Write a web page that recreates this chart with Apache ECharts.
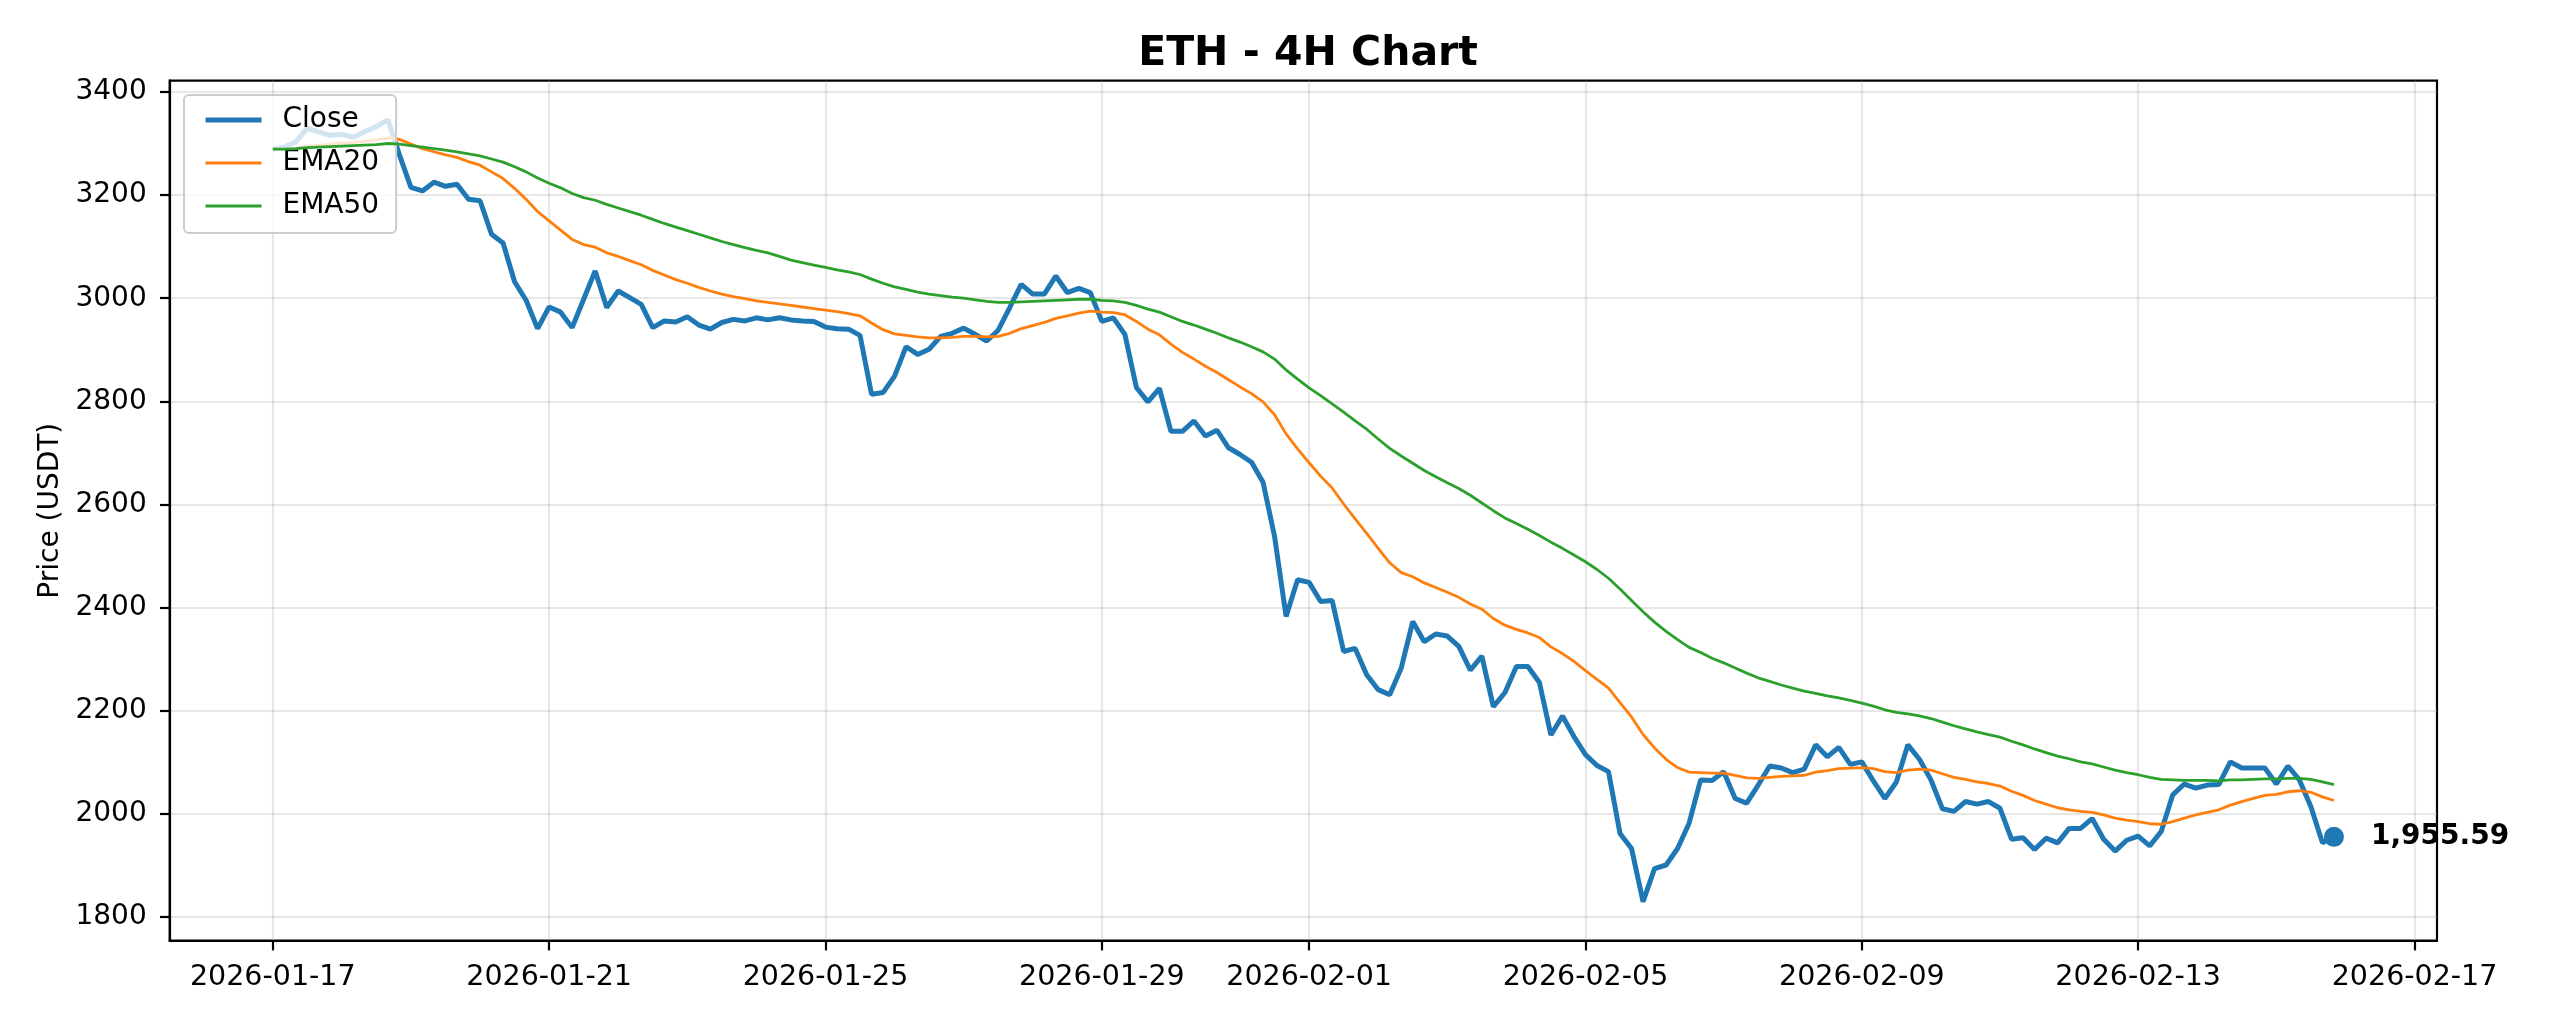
<!DOCTYPE html>
<html><head><meta charset="utf-8">
<script src="https://cdn.jsdelivr.net/npm/echarts@6/dist/echarts.min.js"></script>
<style>html,body{margin:0;padding:0;background:#fff}#c{width:2560px;height:1024px}</style>
</head><body><div id="c"></div>
<script>
const startTime = '2026-01-17T00:00:00Z';
const stepHours = 4;
const closeValues = [
3289,3293,3303,3330,3322,3316,3318,3312,3323,3333,
3346,3278,3215,3208,3225,3217,3221,3192,3189,3124,
3107,3032,2996,2941,2983,2973,2943,2998,3053,2982,
3014,3001,2988,2943,2956,2954,2964,2948,2940,2953,
2959,2956,2962,2958,2962,2958,2956,2955,2944,2941,
2940,2928,2814,2817,2849,2906,2891,2901,2926,2932,
2942,2930,2917,2938,2982,3027,3008,3008,3043,3011,
3019,3011,2955,2962,2930,2827,2799,2825,2742,2742,
2762,2733,2744,2710,2697,2682,2643,2538,2383,2454,
2449,2412,2414,2315,2321,2270,2241,2231,2283,2373,
2334,2349,2345,2325,2279,2306,2208,2235,2286,2286,
2255,2153,2190,2150,2115,2094,2082,1962,1933,1830,
1894,1901,1933,1982,2066,2065,2082,2030,2021,2056,
2093,2089,2080,2087,2134,2111,2129,2096,2101,2064,
2030,2062,2134,2106,2066,2010,2005,2024,2019,2024,
2011,1951,1954,1931,1953,1944,1972,1972,1991,1951,
1928,1949,1957,1938,1966,2037,2058,2050,2056,2057,
2101,2089,2089,2089,2058,2093,2066,2014,1944,1955.59];
const ema20Values = [
3289,3289,3291,3295,3297,3299,3301,3302,3304,3307,
3311,3308,3299,3290,3284,3278,3273,3265,3258,3245,
3232,3213,3192,3168,3150,3132,3114,3104,3099,3088,
3081,3073,3065,3054,3045,3036,3029,3021,3014,3008,
3003,2999,2995,2992,2989,2986,2983,2980,2977,2974,
2970,2966,2952,2939,2931,2928,2925,2923,2923,2924,
2926,2926,2925,2926,2932,2941,2947,2953,2961,2966,
2971,2975,2973,2972,2968,2955,2940,2929,2911,2895,
2882,2868,2856,2842,2828,2815,2799,2774,2737,2708,
2681,2655,2632,2601,2572,2544,2515,2487,2468,2460,
2448,2439,2430,2420,2407,2397,2379,2366,2358,2351,
2342,2324,2311,2296,2278,2261,2244,2216,2188,2154,
2128,2106,2090,2081,2080,2079,2079,2075,2070,2069,
2071,2073,2074,2075,2081,2084,2088,2089,2090,2088,
2082,2080,2085,2087,2085,2078,2071,2067,2062,2059,
2054,2044,2036,2026,2019,2012,2008,2005,2003,1998,
1992,1988,1985,1981,1980,1985,1992,1998,2003,2008,
2017,2024,2030,2036,2038,2043,2045,2042,2033,2026];
const ema50Values = [
3289,3289,3290,3292,3293,3294,3295,3296,3297,3298,
3300,3299,3296,3293,3290,3287,3284,3280,3276,3270,
3264,3255,3245,3233,3223,3214,3203,3195,3190,3182,
3175,3168,3161,3153,3145,3138,3131,3124,3117,3110,
3104,3098,3093,3088,3081,3074,3069,3064,3060,3055,
3051,3046,3037,3029,3022,3017,3012,3008,3005,3002,
3000,2997,2994,2992,2992,2993,2994,2995,2996,2997,
2998,2998,2996,2995,2992,2986,2979,2973,2964,2955,
2948,2940,2932,2923,2915,2906,2896,2882,2861,2843,
2826,2811,2795,2779,2762,2746,2727,2709,2694,2680,
2666,2654,2642,2631,2618,2603,2588,2574,2563,2552,
2540,2527,2515,2502,2489,2474,2457,2436,2414,2392,
2372,2354,2338,2323,2313,2302,2293,2283,2273,2264,
2257,2250,2244,2238,2234,2229,2225,2220,2215,2209,
2202,2197,2194,2190,2185,2178,2171,2165,2159,2154,
2149,2141,2134,2126,2119,2112,2107,2101,2097,2091,
2085,2080,2076,2071,2067,2066,2065,2065,2065,2064,
2066,2066,2067,2068,2068,2069,2069,2067,2062,2057];
const xTickLabels = ['2026-01-17','2026-01-21','2026-01-25','2026-01-29','2026-02-01','2026-02-05','2026-02-09','2026-02-13','2026-02-17'];
const yTickLabels = [1800,2000,2200,2400,2600,2800,3000,3200,3400];

const t0 = Date.parse(startTime);
const times = closeValues.map((_, i) => t0 + i * stepHours * 3600000);
const pair = arr => arr.map((v, i) => [times[i], v]);
const xTicks = xTickLabels.map(s => Date.parse(s + 'T00:00:00Z'));
const tMin = times[0], tMax = times[times.length - 1];
const allV = closeValues.concat(ema20Values, ema50Values);
const vMin = Math.min(...allV), vMax = Math.max(...allV);
const lastIdx = closeValues.length - 1;

const FONT = 'DejaVu Sans';
const gridColor = 'rgba(176,176,176,0.3)';
const chart = echarts.init(document.getElementById('c'), null, {renderer: 'canvas'});
chart.setOption({
  backgroundColor: '#ffffff',
  animation: false,
  title: {
    text: 'ETH - 4H Chart', left: 1303, top: 29, textAlign: 'center',
    textStyle: {fontFamily: FONT, fontSize: 41, fontWeight: 'bold', color: '#000'}
  },
  legend: {
    left: 184, top: 95, orient: 'vertical',
    data: [
      {name: 'Close', lineStyle: {width: 5, color: '#1f77b4'}},
      {name: 'EMA20', lineStyle: {width: 2.8, color: '#ff7f0e'}},
      {name: 'EMA50', lineStyle: {width: 2.8, color: '#2ca02c'}}
    ],
    itemStyle: {opacity: 0},
    itemWidth: 56, itemHeight: 14, itemGap: 15,
    padding: [11, 17, 13, 19],
    backgroundColor: 'rgba(255,255,255,0.8)', borderColor: '#cccccc', borderWidth: 2, borderRadius: 5,
    textStyle: {fontFamily: FONT, fontSize: 28, color: '#000', padding: [0, 0, 0, 16]}
  },
  grid: {left: 169.7, right: 123, top: 80.7, bottom: 83.3, show: true, borderColor: '#000', borderWidth: 2.2, containLabel: false},
  xAxis: {
    type: 'value', min: tMin - 0.05 * (tMax - tMin), max: tMax + 0.05 * (tMax - tMin),
    axisLine: {show: true, lineStyle: {color: '#000', width: 2.2}},
    axisTick: {show: true, customValues: xTicks, length: 9.7, lineStyle: {color: '#000', width: 2.2}},
    axisLabel: {customValues: xTicks, margin: 22, fontFamily: FONT, fontSize: 28.5, color: '#000',
      formatter: v => new Date(v).toISOString().slice(0, 10)},
    splitLine: {show: true, lineStyle: {color: gridColor, width: 2.2}}
  },
  yAxis: {
    type: 'value', min: vMin - 0.05 * (vMax - vMin), max: vMax + 0.05 * (vMax - vMin),
    name: 'Price (USDT)', nameLocation: 'middle', nameGap: 101, nameRotate: 90,
    nameTextStyle: {fontFamily: FONT, fontSize: 28, color: '#000'},
    axisLine: {show: true, lineStyle: {color: '#000', width: 2.2}},
    axisTick: {show: true, customValues: yTickLabels, length: 9.7, lineStyle: {color: '#000', width: 2.2}},
    axisLabel: {customValues: yTickLabels, margin: 23, fontFamily: FONT, fontSize: 28, color: '#000',
      formatter: v => String(v)},
    splitLine: {show: true, lineStyle: {color: gridColor, width: 2.2}}
  },
  series: [
    {name: 'Close', type: 'line', data: pair(closeValues), symbol: 'none', showSymbol: false,
      lineStyle: {color: '#1f77b4', width: 5}, itemStyle: {color: '#1f77b4'}, z: 2},
    {name: 'EMA20', type: 'line', data: pair(ema20Values), symbol: 'none', showSymbol: false,
      lineStyle: {color: '#ff7f0e', width: 2.8}, itemStyle: {color: '#ff7f0e'}, z: 3},
    {name: 'EMA50', type: 'line', data: pair(ema50Values), symbol: 'none', showSymbol: false,
      lineStyle: {color: '#2ca02c', width: 2.8}, itemStyle: {color: '#2ca02c'}, z: 4},
    {name: 'Last', type: 'scatter', data: [[times[lastIdx], closeValues[lastIdx]]], symbolSize: 20,
      itemStyle: {color: '#1f77b4', opacity: 1}, z: 5, clip: false,
      label: {show: true, position: 'right', distance: 27, fontFamily: FONT, fontSize: 28, fontWeight: 'bold', color: '#000',
        formatter: p => p.value[1].toLocaleString('en-US', {minimumFractionDigits: 2, maximumFractionDigits: 2})}}
  ]
});
</script></body></html>
